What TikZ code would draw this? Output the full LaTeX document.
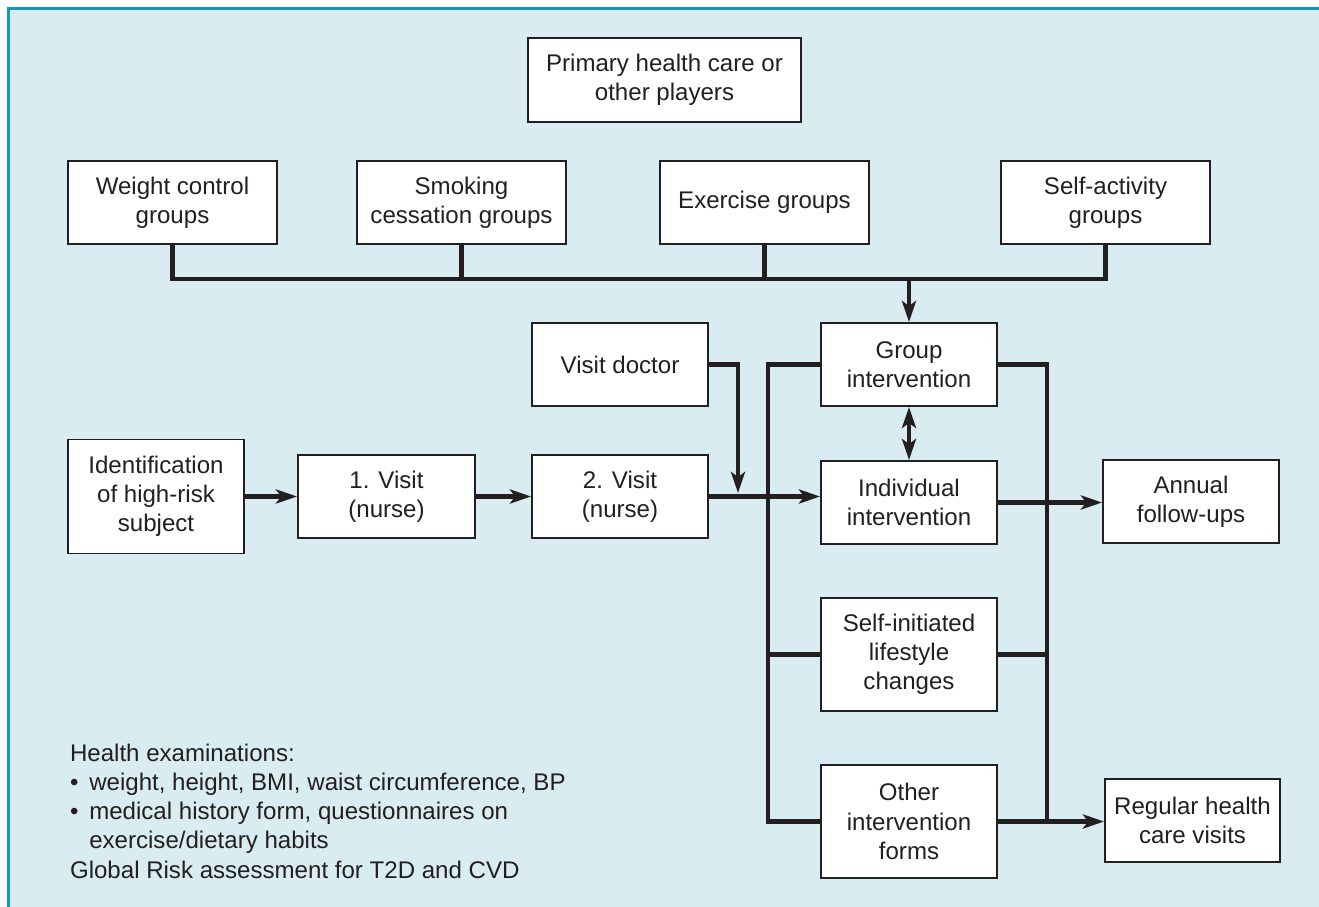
\documentclass[tikz,border=0pt]{standalone}
\usepackage{fontspec}
\setmainfont{Liberation Sans}
\usepackage{tikz}
\usetikzlibrary{calc,arrows.meta,positioning}
\definecolor{fig-bg}{HTML}{D8ECF1}
\definecolor{fig-edge}{HTML}{1199B9}
\definecolor{fig-ink}{HTML}{231F20}

\begin{document}
\begin{tikzpicture}[fig-ink, line width=2.3pt, >={Stealth[length=12pt, width=8pt, inset=3pt]},
    box/.style={draw, rectangle, fill=white, line width=1.1pt, align=center, inner sep=2pt,
        minimum width=3.52cm, minimum height=1.66cm, font=\fontsize{13.7}{16.6}\selectfont},
    wide/.style={box, minimum width=4.18cm},
    tall/.style={box, minimum height=2.27cm}]
    \useasboundingbox (0,0) rectangle (26.38,-18.14);
    \fill[fig-bg] (0.14,-0.14) rectangle (26.38,-18.14);
    \draw[fig-edge, line width=0.06cm] (0.17,-18.14) -- (0.17,-0.17) -- (26.38,-0.17);

    \node[box, minimum width=5.46cm, minimum height=1.68cm] (primary) at (13.29,-1.60) {Primary health care or\\other players};
    \foreach \name/\x/\txt in {weight/3.45/{Weight control\\groups}, smoking/9.23/{Smoking\\cessation groups},
        exercise/15.29/{Exercise groups}, selfact/22.11/{Self-activity\\groups}} {
        \node[wide] (\name) at (\x,-4.05) {\txt};
    }
    \coordinate (bus) at (0,-5.58);
    \draw (weight.south) -- (weight.south |- bus) -- (selfact.south |- bus) -- (selfact.south);
    \draw (smoking.south) -- (smoking.south |- bus);
    \draw (exercise.south) -- (exercise.south |- bus);

    \node[box] (group) at (18.18,-7.29) {Group\\intervention};
    \node[box] (indiv) at (18.18,-10.05) {Individual\\intervention};
    \node[tall] (selfinit) at (18.18,-13.09) {Self-initiated\\lifestyle\\changes};
    \node[tall] (other) at (18.18,-16.43) {Other\\intervention\\forms};
    \draw[->] (group.north |- bus) -- (group.north);
    \draw[<->] (group.south) -- (indiv.north);

    \node[box] (doctor) at (12.40,-7.29) {Visit doctor};
    \node[tall, minimum height=2.28cm] (ident) at (3.12,-9.93) {Identification\\of high-risk\\subject};
    \node[box, minimum width=3.54cm] (visit1) at (7.73,-9.93) {1. Visit\\(nurse)};
    \node[box] (visit2) at (12.40,-9.93) {2. Visit\\(nurse)};
    \node[box] (annual) at (23.82,-10.03) {Annual\\follow-ups};
    \node[box, minimum width=3.50cm] (regular) at (23.85,-16.41) {Regular health\\care visits};

    \draw[->] (ident) -- (visit1);
    \draw[->] (visit1) -- (visit2);
    \draw[->] (visit2.east) -- (visit2.east -| indiv.west);
    \coordinate (join) at (14.76,-9.86);
    \draw[->] (doctor.east) -| (join);

    \coordinate (lbus) at (15.36,0);
    \coordinate (rbus) at (20.94,0);
    \draw (group.west) -- (group.west -| lbus) -- (other.west -| lbus) -- (other.west);
    \draw (selfinit.west) -- (selfinit.west -| lbus);
    \draw (group.east) -- (group.east -| rbus) -- (other.east -| rbus) -- (other.east);
    \draw (selfinit.east) -- (selfinit.east -| rbus);
    \draw[->] (indiv.east) -- (indiv.east -| annual.west);
    \draw[->] (other.east) -- (other.east -| regular.west);

    \node[anchor=north west, align=left, inner sep=0pt, font=\fontsize{13.7}{16.6}\selectfont] (exams) at (1.36,-14.84)
        {Health examinations:\\
        \makebox[0.8em][l]{\textbullet}weight, height, BMI, waist circumference, BP\\
        \makebox[0.8em][l]{\textbullet}medical history form, questionnaires on\\
        \hspace*{0.8em}exercise/dietary habits\\
        Global Risk assessment for T2D and CVD};
\end{tikzpicture}
\end{document}
